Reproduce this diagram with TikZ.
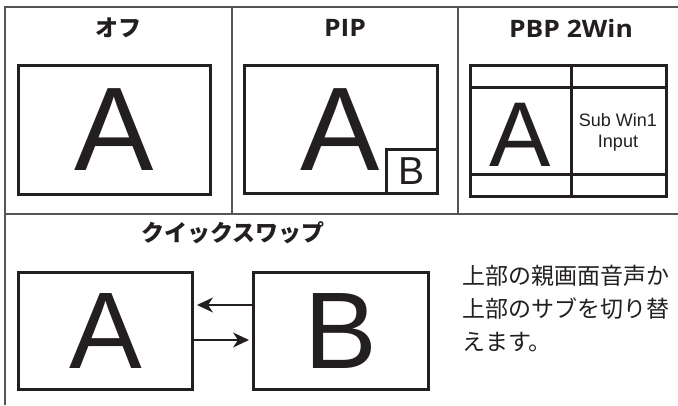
\documentclass[tikz,border=0pt]{standalone}
\usepackage{fontspec}
\setmainfont{Liberation Sans}
\newfontfamily\jpfont{Noto Sans CJK JP}
\newfontfamily\headfont{Open Sans}[FakeStretch=1.1]
\usetikzlibrary{arrows.meta, positioning}
\definecolor{cink}{HTML}{231F20}
\definecolor{crule}{HTML}{555555}
\tikzset{
  grid/.style={draw=crule, line width=1.5pt},
  frame/.style={draw=cink, line width=3pt},
  screen/.style={frame, inner sep=0pt, text=cink},
  letter/.style={font=\fontsize{#1}{#1}\selectfont, text=cink, inner sep=0pt},
  head/.style={font=\headfont\bfseries\fontsize{24}{24}\selectfont, text=cink},
  jphead/.style={font=\jpfont\bfseries\fontsize{23}{23}\selectfont, text=cink},
  jpnote/.style={font=\jpfont\fontsize{23}{33}\selectfont, text=cink, align=left, inner sep=0pt},
  swap/.style={-{Stealth[length=16pt, width=15pt, inset=5pt]}, draw=cink, line width=2pt, shorten >=3pt},
}

\begin{document}
\begin{tikzpicture}[x=1pt, y=-1pt]
  \useasboundingbox (0,0) rectangle (678,405);
  \draw[grid] (5,405) -- (5,7) -- (678,7);
  \draw[grid] (5,214) -- (678,214);
  \draw[grid] (232,7) -- (232,214);
  \draw[grid] (458,7) -- (458,214);
  \node[jphead] (offhead) at (118,28) {オフ};
  \node[head] (piphead) at (345,28) {PIP};
  \node[head] (pbphead) at (571,28) {PBP 2Win};
  \node[screen, minimum width=192, minimum height=129] (offscr) at (114.5,130) {};
  \node[letter=119] (offA) at (offscr) {A};
  \node[screen, minimum width=193, minimum height=128] (pipscr) at (341,129.5) {};
  \node[letter=119] (pipA) at (340,129.5) {A};
  \node[screen, minimum width=51, minimum height=44, anchor=south east, font=\fontsize{39}{39}\selectfont] (pipB) at (pipscr.south east) {B};
  \node[screen, minimum width=196, minimum height=131] (pbpscr) at (568.5,131) {};
  \coordinate (pbpupper) at (0,87);
  \coordinate (pbplower) at (0,174);
  \coordinate (pbpsplit) at (571,0);
  \draw[frame] (pbpscr.west |- pbpupper) -- (pbpscr.east |- pbpupper);
  \draw[frame] (pbpscr.west |- pbplower) -- (pbpscr.east |- pbplower);
  \draw[frame] (pbpscr.north -| pbpsplit) -- (pbpscr.south -| pbpsplit);
  \node[letter=92] (pbpA) at (520,135) {A};
  \node[font=\fontsize{18}{21}\selectfont, align=center, text=cink, inner sep=0pt] (pbpsub) at (618,132) {Sub Win1\\Input};
  \node[jphead] (swaphead) at (233,233) {クイックスワップ};
  \node[screen, minimum width=174, minimum height=117, font=\fontsize{109}{109}\selectfont] (swapA) at (105.5,331) {A};
  \node[screen, minimum width=175, minimum height=117, font=\fontsize{109}{109}\selectfont] (swapB) at (341,331) {B};
  \draw[swap] ([yshift=26pt]swapB.west) -- ([yshift=26pt]swapA.east);
  \draw[swap] ([yshift=-9pt]swapA.east) -- ([yshift=-9pt]swapB.west);
  \node[jpnote, anchor=north west] (swapnote) at (462,265) {上部の親画面音声か\\上部のサブを切り替\\えます。};
\end{tikzpicture}
\end{document}
